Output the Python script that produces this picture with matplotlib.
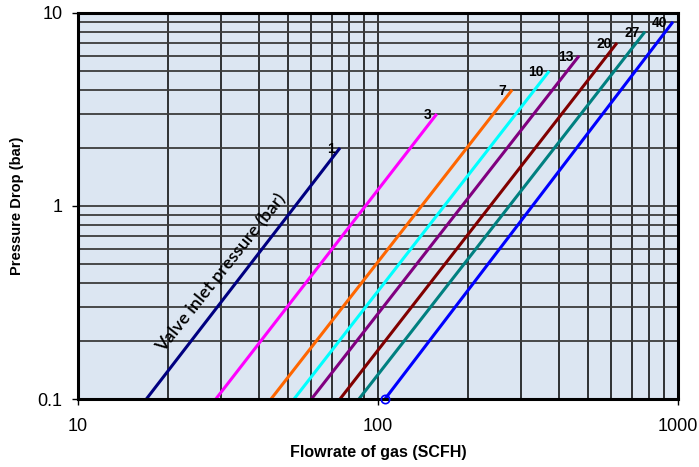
import matplotlib.pyplot as plt
import numpy as np

# inlet pressure series (bar): start/end points
pressures = ["1", "3", "7", "10", "13", "20", "27", "40"]
flow_start = [16.9, 28.8, 44.0, 52.5, 60.0, 74.7, 86.4, 105.5]
flow_end = [74.7, 157.0, 280.0, 372.0, 468.0, 626.0, 776.0, 962.0]
drop_start = [0.1, 0.1, 0.1, 0.1, 0.1, 0.1, 0.1, 0.1]
drop_end = [2.0, 3.0, 4.0, 5.0, 6.0, 7.0, 8.0, 9.0]
colors = ["#000080", "#FF00FF", "#FF6600", "#00FFFF", "#800080", "#800000", "#008080", "#0000FF"]

x_ticks = [10, 100, 1000]
x_ticklabels = ["10", "100", "1000"]
y_ticks = [0.1, 1, 10]
y_ticklabels = ["0.1", "1", "10"]

plt.rcParams["font.family"] = ["Liberation Sans", "DejaVu Sans"]

fig = plt.figure(figsize=(6.99, 4.67), dpi=100)
ax = fig.add_axes([0.1116, 0.1456, 0.8584, 0.8266])
ax.set_facecolor("#DCE6F2")
ax.set_xscale("log")
ax.set_yscale("log")
ax.set_xlim(10, 1000)
ax.set_ylim(0.1, 10)

# grid: vertical lines black, horizontal ones dark grey
ax.grid(True, which="both", axis="x", color="black", lw=1.1)
ax.grid(True, which="both", axis="y", color="#3c3c3c", lw=1.3)
ax.set_axisbelow(True)

for p, x0, x1, y0, y1, c in zip(pressures, flow_start, flow_end, drop_start, drop_end, colors):
    ax.plot([x0, x1], [y0, y1], color=c, lw=2.2, solid_capstyle="butt", zorder=3)
    ax.annotate(p, (x1, y1), xytext=(-4, -1.0), textcoords="offset points",
                ha="right", va="center", fontsize=10, fontweight="bold", zorder=4)

# open circle on the first point of the 40 bar series
ax.plot(flow_start[-1], drop_start[-1], "o", ms=6, mfc="none", mec=colors[-1], mew=1.2,
        clip_on=False, zorder=7)

ax.text(30.0, 0.45, "Valve inlet pressure (bar)", rotation=51.5, ha="center", va="center",
        rotation_mode="anchor", fontsize=13, fontweight="semibold",
        family=["Lato", "DejaVu Sans"], zorder=4)

ax.set_xticks(x_ticks)
ax.set_xticklabels(x_ticklabels)
ax.set_yticks(y_ticks)
ax.set_yticklabels(y_ticklabels)
ax.xaxis.set_minor_formatter(plt.NullFormatter())
ax.yaxis.set_minor_formatter(plt.NullFormatter())
ax.tick_params(which="major", length=4, width=1, labelsize=13)
ax.tick_params(axis="x", which="major", pad=10)
ax.tick_params(axis="y", which="major", pad=7)
ax.tick_params(which="minor", length=0)

for s in ax.spines.values():
    s.set_linewidth(2.2)
    s.set_color("black")
    s.set_zorder(6)

ax.set_xlabel("Flowrate of gas (SCFH)", fontsize=11.5, fontweight="bold", labelpad=7)
ax.set_ylabel("Pressure Drop (bar)", fontsize=10.5, fontweight="bold", labelpad=10)

fig.savefig("out.png", dpi=100)
